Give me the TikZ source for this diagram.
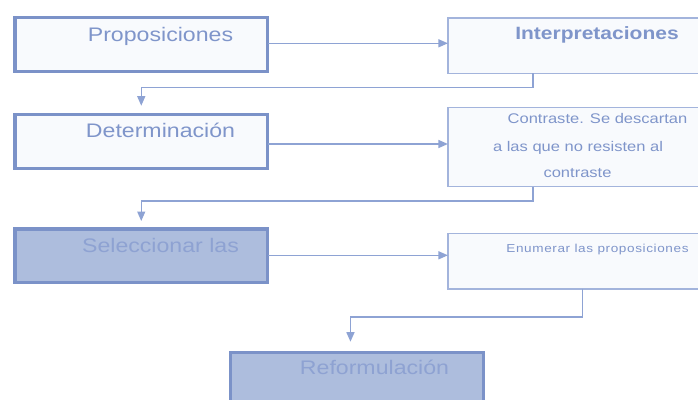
\documentclass[tikz,border=0pt]{standalone}
\usepackage{fontspec}
\setmainfont{Liberation Sans}
\newfontfamily\spacedfont[LetterSpace=4.5]{Liberation Sans}
\usetikzlibrary{arrows.meta}
\definecolor{bord}{HTML}{7B92C8}
\definecolor{thinb}{HTML}{A3B4DC}
\definecolor{lfill}{HTML}{F8FAFD}
\definecolor{dfill}{HTML}{ADBDDD}
\definecolor{txt}{HTML}{7F95CA}
\definecolor{txtd}{HTML}{8EA2D2}
\definecolor{connc}{HTML}{8EA3D4}
\newcommand\wt[2]{\scalebox{1.18}[1]{\fontsize{#1}{#1}\selectfont #2}}
\begin{document}
\begin{tikzpicture}[x=1pt,y=-1pt,
  mainbox/.style={draw=bord,line width=3.2pt,fill=lfill,anchor=north west,
    minimum width=252.5pt,minimum height=53.6pt,inner sep=0pt,outer sep=0pt},
  darkbox/.style={mainbox,fill=dfill},
  sidebox/.style={draw=thinb,line width=1.2pt,fill=lfill,anchor=north west,
    minimum width=300pt,inner sep=0pt,outer sep=0pt},
  lbl/.style={anchor=base,inner sep=0pt,text=txt},
  lbld/.style={anchor=base,inner sep=0pt,text=txtd},
  connector/.style={draw=connc,line width=1.3pt,
    -{Triangle[length=9.5pt,width=8pt]}}
]
\useasboundingbox (0,0) rectangle (698,399);
\fill[white] (0,0) rectangle (698,399);

% left column
\node[mainbox] (p) at (15,17.7) {};
\node[mainbox] (d) at (15,114.7) {};
\node[darkbox] (s) at (15,229) {};
\node[darkbox,minimum height=60pt] (r) at (230.7,352.7) {};

% right column
\node[sidebox,minimum height=55.4pt] (i) at (447.9,17.9) {};
\node[sidebox,minimum height=79.3pt] (c) at (447.9,107.3) {};
\node[sidebox,minimum height=55.6pt] (e) at (447.9,233.3) {};

% texts
\node[lbl] (tp) at (160.5,41) {\wt{19.6}{Proposiciones}};
\node[lbl] (td) at (160.5,137) {\wt{19.6}{Determinación}};
\node[lbld] (ts) at (160.5,252) {\wt{19.6}{Seleccionar las}};
\node[lbld] (tr) at (374.5,374) {\wt{19.6}{Reformulación}};
\node[lbl] (ti) at (597,39) {\wt{17.8}{\bfseries Interpretaciones}};
\node[lbl] (tc1) at (597.5,123) {\wt{14}{Contraste. Se descartan}};
\node[lbl] (tc2) at (578,151) {\wt{14}{a las que no resisten al}};
\node[lbl] (tc3) at (577.5,177) {\wt{14}{contraste}};
\node[lbl] (te) at (597.5,252) {\wt{11.5}{\spacedfont Enumerar las proposiciones}};

% connectors
\draw[connector] (p.east |- 0,43.3) -- (i.west |- 0,43.3);
\draw[connector] (d.east |- 0,144) -- (c.west |- 0,144);
\draw[connector] (s.east |- 0,255.3) -- (e.west |- 0,255.3);

\draw[connector,shorten >=9pt] ([xshift=85pt]i.south west) -- ++(0,14.5) -| (d.north);
\draw[connector,shorten >=8pt] ([xshift=85pt]c.south west) -- ++(0,14.5) -| (s.north);
\draw[connector,shorten >=11pt] ([xshift=134.5pt]e.south west) -- ++(0,28) -| ([xshift=-6.5pt]r.north);
\end{tikzpicture}
\end{document}
